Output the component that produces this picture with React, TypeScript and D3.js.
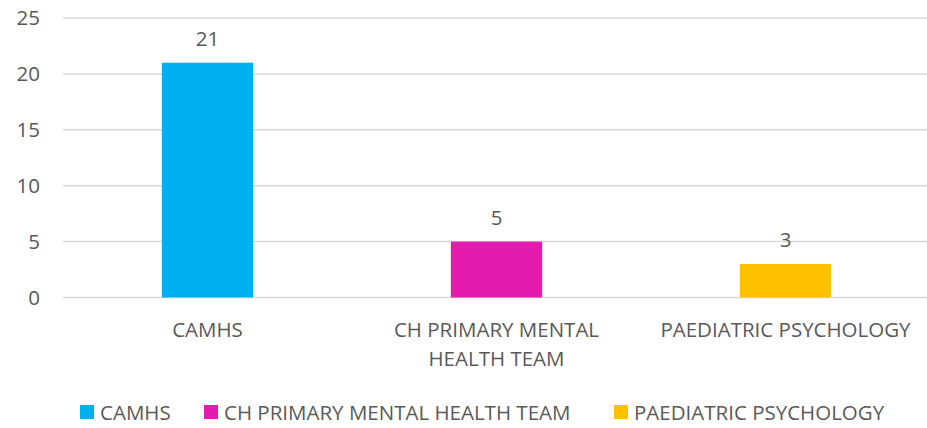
import React from "react";
import * as d3 from "d3";

const categories = ["CAMHS", "CH PRIMARY MENTAL HEALTH TEAM", "PAEDIATRIC PSYCHOLOGY"];
const categoryLines = [["CAMHS"], ["CH PRIMARY MENTAL", "HEALTH TEAM"], ["PAEDIATRIC PSYCHOLOGY"]];
const values = [21, 5, 3];
const colors = ["#00B0F0", "#E31CAF", "#FFC000"];
const yTicks = [0, 5, 10, 15, 20, 25];

const W = 927;
const H = 428;
const FONT = "'Open Sans', sans-serif";
const TEXT = "#595959";
const FS = 20.5;

export default function App() {
  const x = d3.scaleBand<string>().domain(categories).range([63, 930]).padding(0);
  const y = d3.scaleLinear().domain([0, 25]).range([297.5, 18]);
  const bw = x.bandwidth() * 0.316;

  const legendX = [80, 204, 614];

  return (
    <svg
      width={W}
      height={H}
      style={{ position: "absolute", left: 0, top: 0, background: "#fff" }}
      fontFamily={FONT}
    >
      {yTicks.map((t) => (
        <g key={t}>
          <line x1={63} x2={927} y1={y(t)} y2={y(t)} stroke="#D9D9D9" strokeWidth={1.5} />
          <text x={40} y={y(t)} dy="0.35em" textAnchor="end" fontSize={FS} fill={TEXT}>
            {t}
          </text>
        </g>
      ))}
      {categories.map((c, i) => {
        const cx = (x(c) as number) + x.bandwidth() / 2;
        return (
          <g key={c}>
            <rect x={cx - bw / 2} y={y(values[i])} width={bw} height={y(0) - y(values[i])} fill={colors[i]} />
            <text x={cx} y={y(values[i]) - 17} textAnchor="middle" fontSize={FS} fill={TEXT}>
              {values[i]}
            </text>
            {categoryLines[i].map((ln, j) => (
              <text key={j} x={cx} y={337 + j * 29} textAnchor="middle" fontSize={FS} fill={TEXT}>
                {ln}
              </text>
            ))}
          </g>
        );
      })}
      {categories.map((c, i) => (
        <g key={"lg" + c}>
          <rect x={legendX[i]} y={405} width={14} height={14} fill={colors[i]} />
          <text x={legendX[i] + 20} y={419.5} fontSize={FS} fill={TEXT}>
            {c}
          </text>
        </g>
      ))}
    </svg>
  );
}
